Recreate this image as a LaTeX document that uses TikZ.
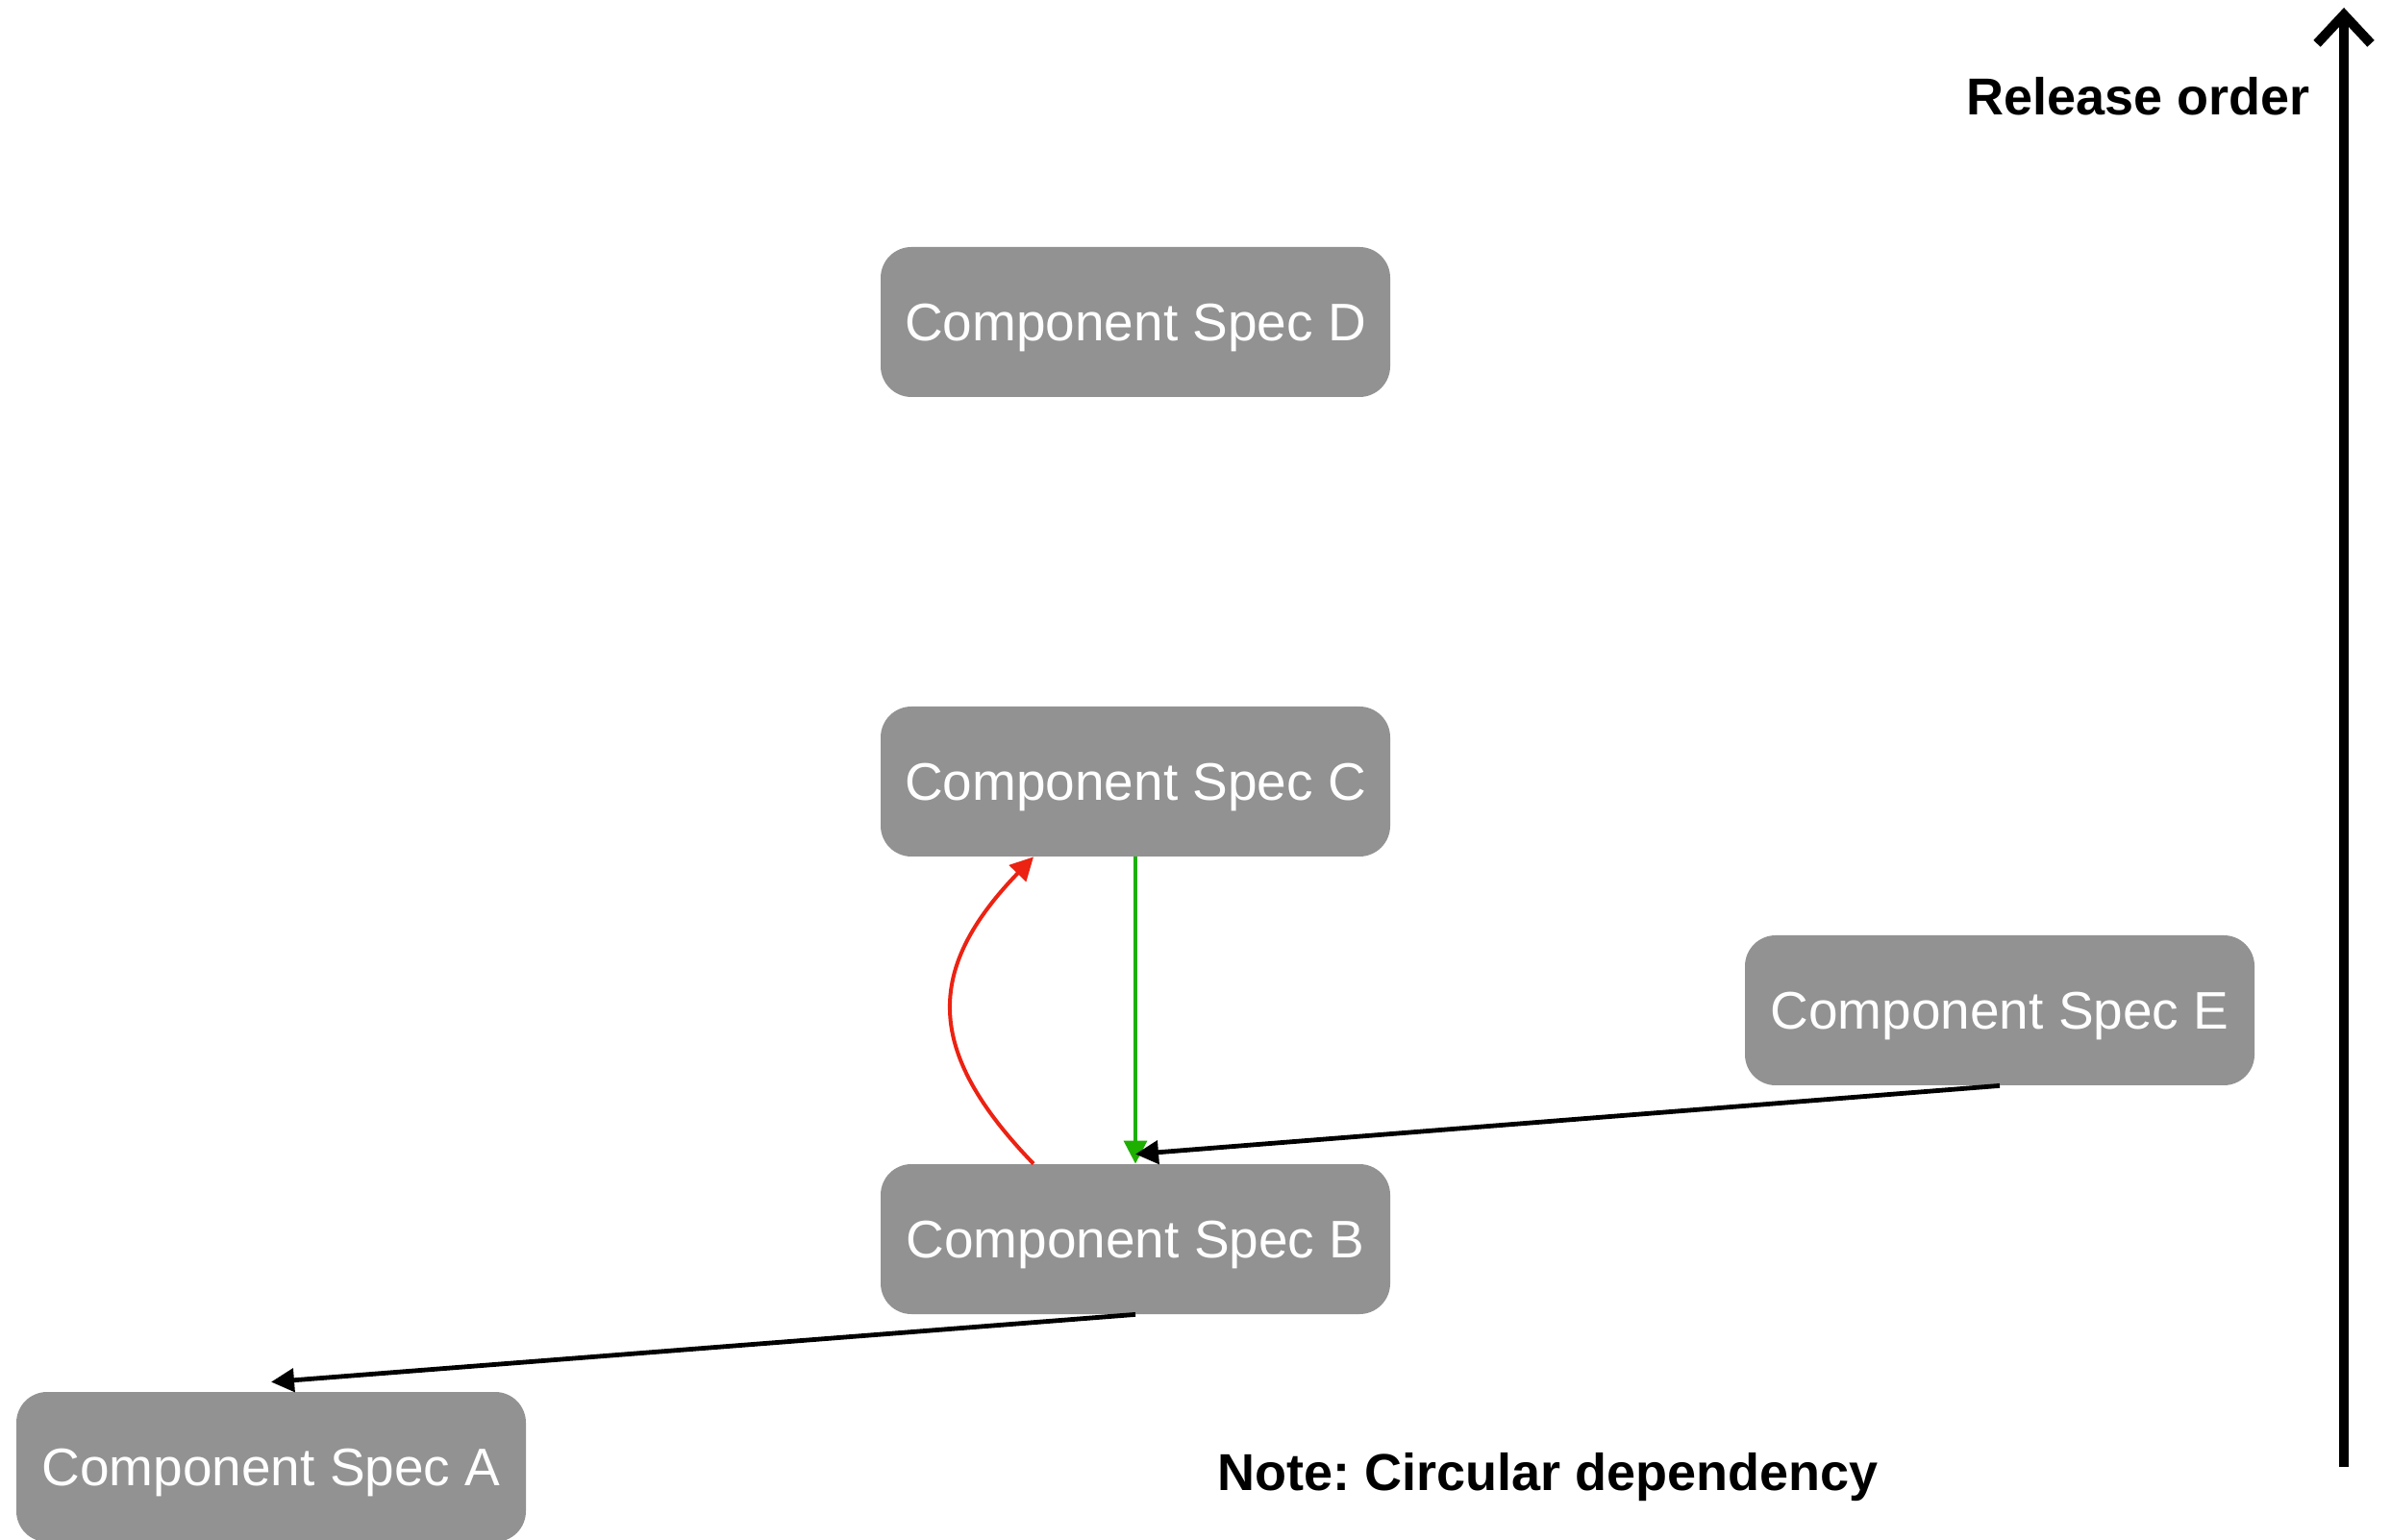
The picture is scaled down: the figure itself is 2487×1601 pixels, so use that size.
\documentclass[tikz,border=0pt]{standalone}
\usepackage{fontspec}
\setmainfont{Liberation Sans}
\usetikzlibrary{arrows.meta}

\definecolor{specgray}{RGB}{146,146,146}
\definecolor{cyclered}{RGB}{236,34,18}
\definecolor{depgreen}{RGB}{30,176,0}

\frenchspacing

\begin{document}
\begin{tikzpicture}[x=0.5pt,y=0.5pt,
  spec/.style={fill=specgray, text=white, rounded corners=16pt,
    minimum width=265pt, minimum height=78pt, text depth=0pt,
    font=\fontsize{27.5}{32}\selectfont},
  headline/.style={font=\fontsize{27}{32}\selectfont\bfseries, inner sep=0pt},
  dep/.style={line width=2.4pt, -{Triangle[length=12pt,width=12pt]}}]

  % Page size of the reference
  \useasboundingbox (0,0) rectangle (2487,1601);

  % The component specs, one row per release step
  \node[spec] (D) at (1181,1266) {Component Spec D};
  \node[spec] (C) at (1181,788) {Component Spec C};
  \node[spec] (E) at (2080,550) {Component Spec E};
  \node[spec] (B) at (1181,312) {Component Spec B};
  \node[spec] (A) at (282,75) {Component Spec A};

  % Green dependency C -> B
  \draw[dep, line width=1.7pt, depgreen] (C.south) -- (B.north);

  % Red dependency back from B to C (the cycle)
  \draw[dep, line width=2pt, cyclered] ([xshift=-53pt]B.north) to[bend left=44, looseness=1.31] ([xshift=-53pt]C.south);

  % Black dependencies
  \draw[dep] (E.south) -- ([yshift=5pt]B.north);
  \draw[dep] (B.south) -- ([yshift=5pt]A.north);

  % Release order axis
  \coordinate (orderlow) at (2438,75);
  \coordinate (orderhigh) at (2438,1593);
  \draw[line width=5pt, -{Straight Barb[length=15pt,width=28pt]}] (orderlow) -- (orderhigh);
  \node[headline, anchor=base east] (order) at (2403,1481) {Release order};

  % Note at the bottom
  \node[headline, anchor=base west] (note) at (1266,51) {Note: Circular dependency};

\end{tikzpicture}
\end{document}
